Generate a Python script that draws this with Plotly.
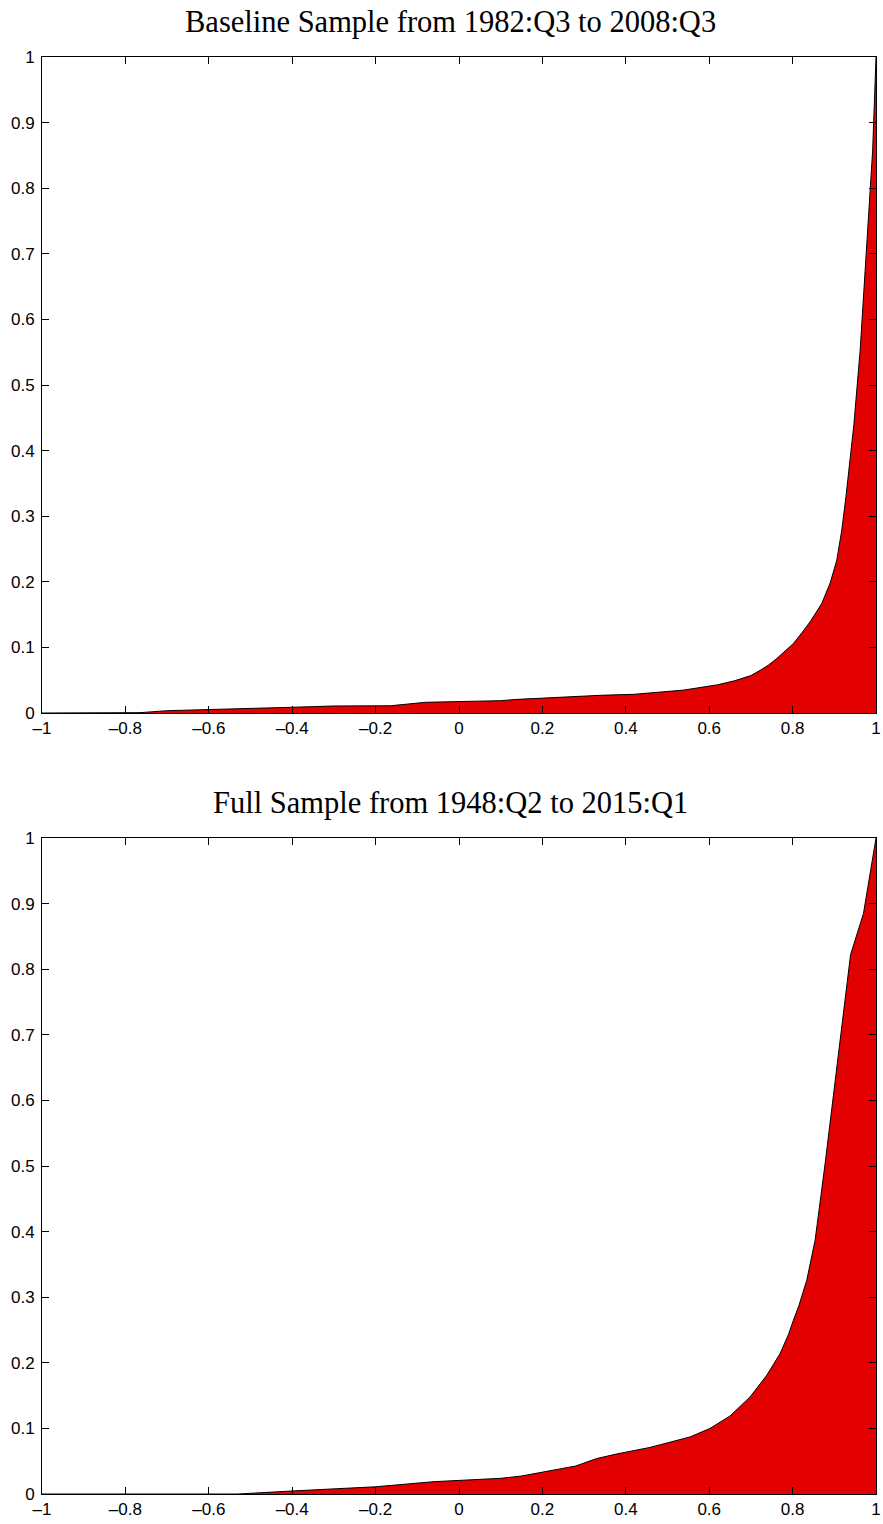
import plotly.graph_objects as go

# ---- data ----
top_title = "Baseline Sample from 1982:Q3 to 2008:Q3"
bottom_title = "Full Sample from 1948:Q2 to 2015:Q1"

top_x = [-1, -0.8, -0.765, -0.70, -0.58, -0.46, -0.40, -0.30, -0.22, -0.165, -0.08,
         0.02, 0.10, 0.14, 0.30, 0.34, 0.42, 0.46, 0.54, 0.59, 0.62, 0.66, 0.70,
         0.722, 0.742, 0.762, 0.782, 0.802, 0.822, 0.842, 0.870, 0.890, 0.906,
         0.918, 0.928, 0.936, 0.947, 0.962, 0.972, 0.982, 0.992, 1.0]
top_y = [0, 0, 0.0005, 0.0035, 0.0056, 0.0066, 0.0087, 0.0107, 0.0113, 0.011, 0.0163,
         0.0178, 0.0188, 0.0208, 0.026, 0.027, 0.0285, 0.031, 0.035, 0.040, 0.043,
         0.049, 0.057, 0.065, 0.073, 0.083, 0.094, 0.106, 0.122, 0.139, 0.167,
         0.198, 0.233, 0.279, 0.330, 0.381, 0.440, 0.553, 0.655, 0.757, 0.858, 1.0]

bot_x = [-1, -0.53, -0.40, -0.30, -0.20, -0.06, 0.10, 0.15, 0.28, 0.33, 0.378, 0.458,
         0.554, 0.602, 0.650, 0.698, 0.738, 0.770, 0.790, 0.802, 0.815, 0.834,
         0.854, 0.878, 0.898, 0.918, 0.939, 0.970, 1.0]
bot_y = [0, 0, 0.0046, 0.008, 0.011, 0.0188, 0.0239, 0.0274, 0.0427, 0.054, 0.061,
         0.071, 0.087, 0.100, 0.119, 0.148, 0.181, 0.214, 0.243, 0.265, 0.287, 0.326,
         0.387, 0.504, 0.606, 0.707, 0.822, 0.885, 1.0]

x_tickvals = [-1, -0.8, -0.6, -0.4, -0.2, 0, 0.2, 0.4, 0.6, 0.8, 1]
x_ticktext = ["\u20131", "\u20130.8", "\u20130.6", "\u20130.4", "\u20130.2", "0",
              "0.2", "0.4", "0.6", "0.8", "1"]
y_tickvals = [0, 0.1, 0.2, 0.3, 0.4, 0.5, 0.6, 0.7, 0.8, 0.9, 1]
y_ticktext = ["0", "0.1", "0.2", "0.3", "0.4", "0.5", "0.6", "0.7", "0.8", "0.9", "1"]

W, H = 883, 1524
FILL = "#E30000"

fig = go.Figure()
fig.add_trace(go.Scatter(x=top_x, y=top_y, mode="lines", fill="tozeroy",
                         fillcolor=FILL, line=dict(color="black", width=1),
                         xaxis="x", yaxis="y", showlegend=False, hoverinfo="skip"))
fig.add_trace(go.Scatter(x=bot_x, y=bot_y, mode="lines", fill="tozeroy",
                         fillcolor=FILL, line=dict(color="black", width=1),
                         xaxis="x2", yaxis="y2", showlegend=False, hoverinfo="skip"))

xd = [42 / W, 876 / W]
top_dom = [1 - 713 / H, 1 - 57 / H]
bot_dom = [1 - 1494 / H, 1 - 838 / H]

tickfont = dict(family="Liberation Sans, Arial, Helvetica, sans-serif", size=17, color="black")
common_x = dict(range=[-1, 1], tickmode="array", tickvals=x_tickvals, ticktext=x_ticktext,
                ticks="inside", ticklen=7, tickcolor="black", tickwidth=1,
                showline=True, linecolor="black", linewidth=1, mirror="allticks",
                showgrid=False, zeroline=False, tickfont=tickfont, fixedrange=True,
                automargin=False, ticklabelstandoff=0)
common_y = dict(range=[0, 1], tickmode="array", tickvals=y_tickvals, ticktext=y_ticktext,
                ticks="inside", ticklen=7, tickcolor="black", tickwidth=1,
                showline=True, linecolor="black", linewidth=1, mirror="allticks",
                showgrid=False, zeroline=False, tickfont=tickfont, fixedrange=True,
                automargin=False, ticklabelstandoff=3)

title_font = dict(family="Liberation Serif, Times New Roman, serif", size=30.5, color="black")

fig.update_layout(
    width=W, height=H,
    margin=dict(l=0, r=0, t=0, b=0, pad=0),
    paper_bgcolor="white", plot_bgcolor="white",
    xaxis=dict(domain=xd, anchor="y", **common_x),
    yaxis=dict(domain=top_dom, anchor="x", **common_y),
    xaxis2=dict(domain=xd, anchor="y2", **common_x),
    yaxis2=dict(domain=bot_dom, anchor="x2", **common_y),
    annotations=[
        dict(text=top_title, x=450 / W, y=1 - 22 / H, xref="paper", yref="paper",
             xanchor="center", yanchor="middle", showarrow=False, font=title_font),
        dict(text=bottom_title, x=450 / W, y=1 - 803 / H, xref="paper", yref="paper",
             xanchor="center", yanchor="middle", showarrow=False, font=title_font),
    ],
)

fig.write_html("out.html")
